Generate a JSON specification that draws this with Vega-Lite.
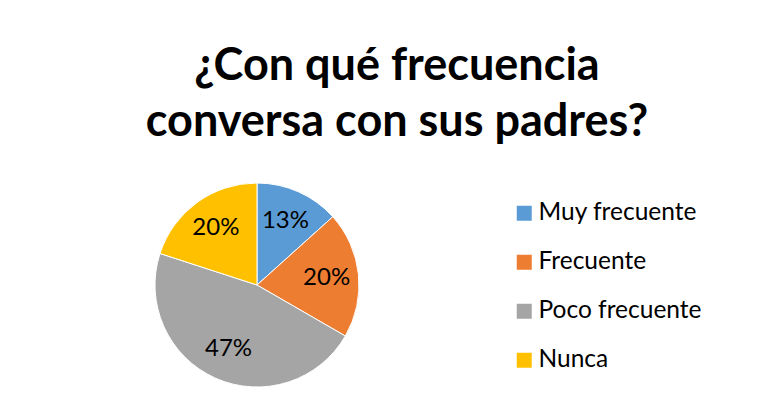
{
  "$schema": "https://vega.github.io/schema/vega-lite/v6.json",
  "width": 204,
  "height": 204,
  "autosize": "none",
  "padding": {"left": 155, "top": 183, "right": 418, "bottom": 20},
  "background": "white",
  "title": {
    "text": ["¿Con qué frecuencia", "conversa con sus padres?"],
    "font": "Lato",
    "fontWeight": "bold",
    "fontSize": 45,
    "lineHeight": 56,
    "color": "#000000",
    "anchor": "middle",
    "frame": "group",
    "dx": 140,
    "offset": 36
  },
  "data": {
    "values": [
      {"categoria": "Muy frecuente", "orden": 1, "cantidad": 2, "etiqueta": "13%"},
      {"categoria": "Frecuente", "orden": 2, "cantidad": 3, "etiqueta": "20%"},
      {"categoria": "Poco frecuente", "orden": 3, "cantidad": 7, "etiqueta": "47%"},
      {"categoria": "Nunca", "orden": 4, "cantidad": 3, "etiqueta": "20%"}
    ]
  },
  "encoding": {
    "theta": {"field": "cantidad", "type": "quantitative", "stack": true},
    "order": {"field": "orden", "type": "quantitative"}
  },
  "layer": [
    {
      "mark": {"type": "arc", "stroke": "white", "strokeWidth": 1},
      "encoding": {
        "color": {
          "field": "categoria",
          "type": "nominal",
          "sort": null,
          "scale": {
            "domain": ["Muy frecuente", "Frecuente", "Poco frecuente", "Nunca"],
            "range": ["#5B9BD5", "#ED7D31", "#A5A5A5", "#FFC000"]
          },
          "legend": {
            "title": null,
            "orient": "none",
            "legendX": 357,
            "legendY": 18,
            "symbolType": "square",
            "symbolSize": 225,
            "symbolStrokeWidth": 0,
            "labelFont": "Lato",
            "labelFontSize": 24.5,
            "labelColor": "#000000",
            "labelOffset": 2,
            "rowPadding": 24,
            "labelLimit": 300
          }
        }
      }
    },
    {
      "mark": {"type": "text", "radius": 70, "font": "Lato", "fontSize": 24, "color": "#000000"},
      "encoding": {
        "text": {"field": "etiqueta", "type": "nominal"}
      }
    }
  ],
  "config": {"view": {"stroke": null}}
}
